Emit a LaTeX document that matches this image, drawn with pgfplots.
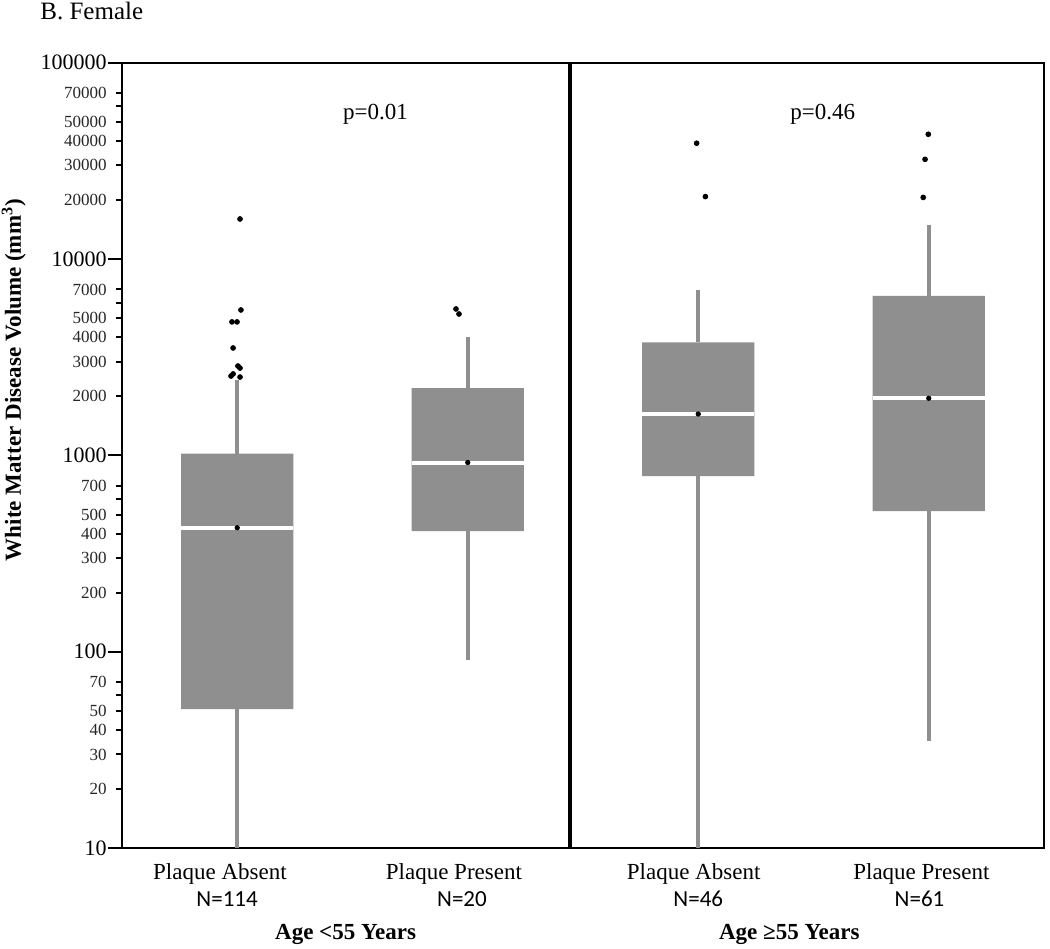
\documentclass[border=0pt]{standalone}
\usepackage{fontspec}
\setmainfont{Liberation Serif}
\newfontfamily\nfont{Carlito}
\usepackage{pgfplots}
\pgfplotsset{compat=1.18}
\definecolor{boxgray}{RGB}{143,143,143}

\begin{document}
\begin{tikzpicture}
\begin{axis}[name=ax, scale only axis, width=461pt, height=392.7pt,
 ymode=log, ymin=10, ymax=100000, xmin=0, xmax=4,
 clip=false, axis line style={line width=1pt},
 xtick=\empty,
 ytick={10,100,1000,10000,100000},
 yticklabels={10,100,1000,10000,100000},
 minor ytick={60,600,6000,60000},
 extra y ticks={20,30,40,50,70,200,300,400,500,700,2000,3000,4000,5000,7000,20000,30000,40000,50000,70000},
 extra y tick labels={20,30,40,50,70,200,300,400,500,700,2000,3000,4000,5000,7000,20000,30000,40000,50000,70000},
 ytick align=outside, ytick pos=left,
 major tick length=7pt, minor tick length=3pt,
 tick style={line width=1pt, black},
 yticklabel style={font=\fontsize{11}{13}\selectfont, inner sep=0pt, anchor=east, xshift=-0.5pt},
 extra y tick style={major tick length=3pt, yticklabel style={font=\fontsize{8.5}{10}\selectfont, text=black!85, xshift=-4pt}},
 /pgf/number format/assume math mode=true,
]
% boxes: (left,Q1) (right,Q1) (right,Q3) (left,Q3)
\addplot[fill=boxgray, draw=none] coordinates {(0.2565,51) (0.7435,51) (0.7435,1020) (0.2565,1020) (0.2565,51)};
\addplot[fill=boxgray, draw=none] coordinates {(1.2565,412) (1.7435,412) (1.7435,2200) (1.2565,2200) (1.2565,412)};
\addplot[fill=boxgray, draw=none] coordinates {(2.2565,785) (2.7435,785) (2.7435,3770) (2.2565,3770) (2.2565,785)};
\addplot[fill=boxgray, draw=none] coordinates {(3.2565,521) (3.7435,521) (3.7435,6490) (3.2565,6490) (3.2565,521)};
% whiskers
\addplot[boxgray, line width=2pt] coordinates {(0.5,10) (0.5,51)};
\addplot[boxgray, line width=2pt] coordinates {(0.5,1020) (0.5,2420)};
\addplot[boxgray, line width=2pt] coordinates {(1.5,90.8) (1.5,412)};
\addplot[boxgray, line width=2pt] coordinates {(1.5,2200) (1.5,4030)};
\addplot[boxgray, line width=2pt] coordinates {(2.5,10) (2.5,785)};
\addplot[boxgray, line width=2pt] coordinates {(2.5,3770) (2.5,6960)};
\addplot[boxgray, line width=2pt] coordinates {(3.5,35) (3.5,521)};
\addplot[boxgray, line width=2pt] coordinates {(3.5,6490) (3.5,14900)};
% medians
\addplot[white, line width=2pt] coordinates {(0.2565,428) (0.7435,428)};
\addplot[white, line width=2pt] coordinates {(1.2565,920) (1.7435,920)};
\addplot[white, line width=2pt] coordinates {(2.2565,1625) (2.7435,1625)};
\addplot[white, line width=2pt] coordinates {(3.2565,1955) (3.7435,1955)};

% outliers
\addplot[only marks, mark=*, mark size=1.2pt, black] coordinates {
 (0.512,16000) (0.516,5505) (0.477,4786) (0.499,4786) (0.482,3525)
 (0.503,2853) (0.512,2786) (0.473,2537) (0.482,2600) (0.512,2506)
 (1.449,5570) (1.462,5250)
 (2.493,38900) (2.531,20800)
 (3.498,43200) (3.484,32200) (3.476,20600)
};
% median dots
\addplot[only marks, mark=*, mark size=1.1pt, black] coordinates {
 (0.5,428) (1.5,920) (2.5,1625) (3.5,1955)
};

\draw[line width=1.7pt, black] (axis cs:1.944,10) -- (axis cs:1.944,100000);

\node[anchor=base, font=\fontsize{11.5}{13}\selectfont] at (axis cs:1.10,51200) {p=0.01};
\node[anchor=base, font=\fontsize{11.5}{13}\selectfont] at (axis cs:3.04,51200) {p=0.46};

\node[anchor=base, yshift=-15.5pt, font=\fontsize{11.5}{13}\selectfont] at (axis cs:0.425,10) {Plaque Absent};
\node[anchor=base, yshift=-15.5pt, font=\fontsize{11.5}{13}\selectfont] at (axis cs:1.44,10) {Plaque Present};
\node[anchor=base, yshift=-15.5pt, font=\fontsize{11.5}{13}\selectfont] at (axis cs:2.48,10) {Plaque Absent};
\node[anchor=base, yshift=-15.5pt, font=\fontsize{11.5}{13}\selectfont] at (axis cs:3.468,10) {Plaque Present};

\node[anchor=base, yshift=-29pt, font=\nfont\fontsize{11.5}{13}\selectfont] at (axis cs:0.456,10) {N=114};
\node[anchor=base, yshift=-29pt, font=\nfont\fontsize{11.5}{13}\selectfont] at (axis cs:1.475,10) {N=20};
\node[anchor=base, yshift=-29pt, font=\nfont\fontsize{11.5}{13}\selectfont] at (axis cs:2.50,10) {N=46};
\node[anchor=base, yshift=-29pt, font=\nfont\fontsize{11.5}{13}\selectfont] at (axis cs:3.46,10) {N=61};

\node[anchor=base, yshift=-45.5pt, font=\bfseries\fontsize{11.5}{13}\selectfont] at (axis cs:0.97,10) {Age <55 Years};
\node[anchor=base, yshift=-45.5pt, font=\bfseries\fontsize{11.5}{13}\selectfont] at (axis cs:2.895,10) {Age ≥55 Years};

\node[xshift=-50.5pt, rotate=90, anchor=base, font=\bfseries\fontsize{11.5}{13}\selectfont] at (rel axis cs:0,0.596) {White Matter Disease Volume (mm\textsuperscript{3})};

\node[anchor=base west, inner sep=0pt, xshift=-41pt, yshift=21.8pt, font=\fontsize{12.5}{14}\selectfont] at (rel axis cs:0,1) {B. Female};
\end{axis}
\pgfresetboundingbox
\path ([xshift=-61pt,yshift=-50pt]ax.south west) rectangle ([xshift=3pt,yshift=31.35pt]ax.north east);
\end{tikzpicture}
\end{document}
